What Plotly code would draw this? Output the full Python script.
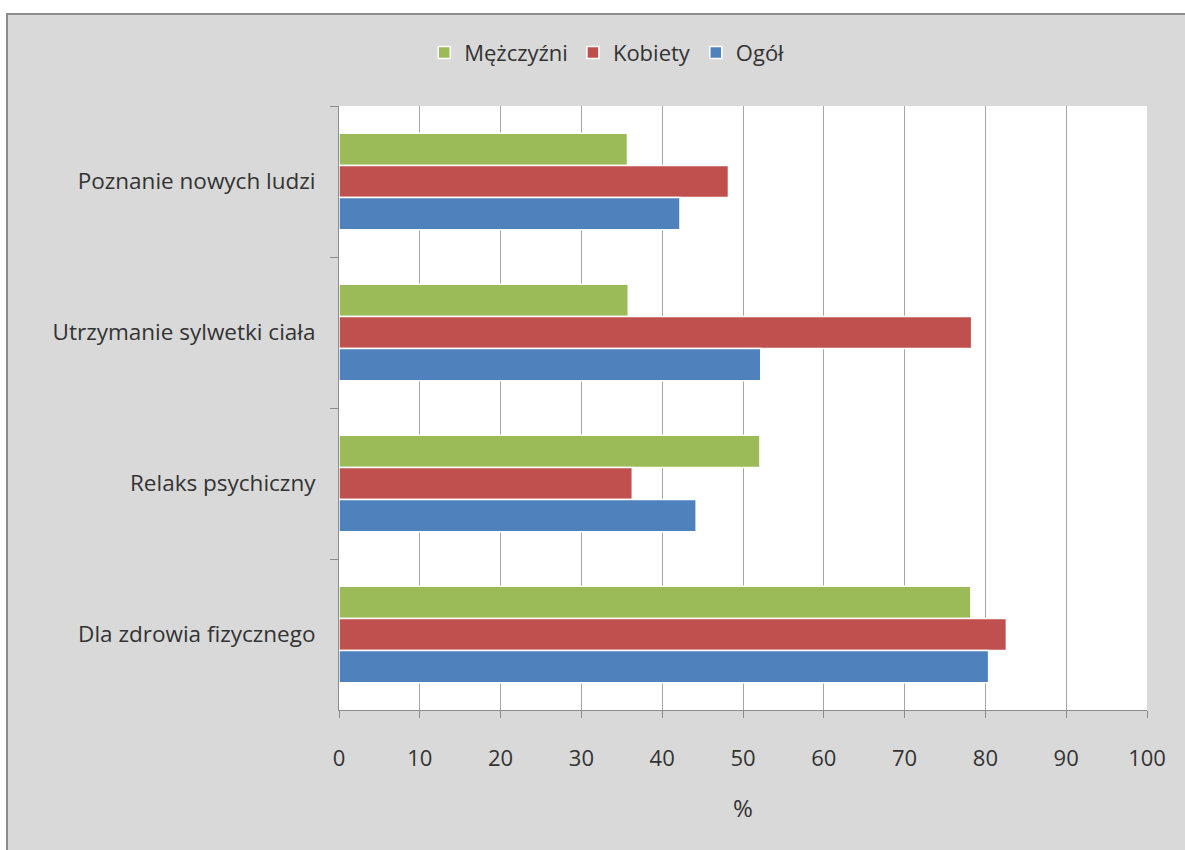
import plotly.graph_objects as go

# Motives for physical activity (%), categories listed top to bottom
categories = [
    "Poznanie nowych ludzi",
    "Utrzymanie sylwetki ciała",
    "Relaks psychiczny",
    "Dla zdrowia fizycznego",
]
men = [35.7, 35.8, 52.1, 78.2]
women = [48.2, 78.3, 36.3, 82.6]
total = [42.2, 52.2, 44.2, 80.4]

series_names = ["Mężczyźni", "Kobiety", "Ogół"]
series_values = [men, women, total]
series_colors = ["#9bbb59", "#c0504d", "#4f81bd"]

x_ticks = list(range(0, 101, 10))

FONT = "'Open Sans', Lato, sans-serif"
TEXT = "#333333"
GRID = "#a6a6a6"

fig = go.Figure()
for name, vals, col in zip(series_names, series_values, series_colors):
    fig.add_trace(go.Bar(
        y=categories, x=vals, name=name, orientation="h",
        marker=dict(color=col, line=dict(color="white", width=1.5)),
    ))

fig.update_layout(
    width=1185, height=850,
    margin=dict(l=339, r=38, t=106, b=140),
    paper_bgcolor="white",
    plot_bgcolor="white",
    barmode="group",
    bargap=0.36,
    bargroupgap=0,
    font=dict(family=FONT, color=TEXT, size=21),
    legend=dict(
        orientation="h",
        xref="container", yref="container",
        x=0.512, y=0.938, xanchor="center", yanchor="middle",
        font=dict(size=22, family=FONT, color=TEXT),
        bgcolor="rgba(0,0,0,0)",
        itemwidth=30,
    ),
    showlegend=True,
    shapes=[
        # grey chart frame
        dict(type="rect", xref="paper", yref="paper",
             x0=(7 - 339) / 808, x1=(1200 - 339) / 808,
             y0=-(870 - 710) / 604, y1=1 + (106 - 14) / 604,
             fillcolor="#d9d9d9", line=dict(color="#8c8c8c", width=2),
             layer="below"),
        # white plot area
        dict(type="rect", xref="paper", yref="paper",
             x0=0, x1=1, y0=0, y1=1,
             fillcolor="white", line=dict(width=0), layer="below"),
    ],
)

fig.update_xaxes(
    range=[0, 100],
    tickvals=x_ticks,
    ticks="outside", ticklen=7, tickcolor="#8c8c8c",
    ticklabelstandoff=22,
    showgrid=True, gridcolor=GRID, gridwidth=1,
    showline=True, linecolor="#8c8c8c", linewidth=1,
    zeroline=False,
    tickfont=dict(size=22, family=FONT, color=TEXT),
    title=dict(text="%", font=dict(size=24, family=FONT, color=TEXT), standoff=28),
)

fig.update_yaxes(
    autorange="reversed",
    tickson="boundaries",
    ticks="outside", ticklen=8, tickcolor="#8c8c8c",
    ticklabelstandoff=18,
    showgrid=False,
    showline=True, linecolor="#8c8c8c", linewidth=1,
    tickfont=dict(size=22.5, family=FONT, color=TEXT),
)

fig.write_html("out.html")
